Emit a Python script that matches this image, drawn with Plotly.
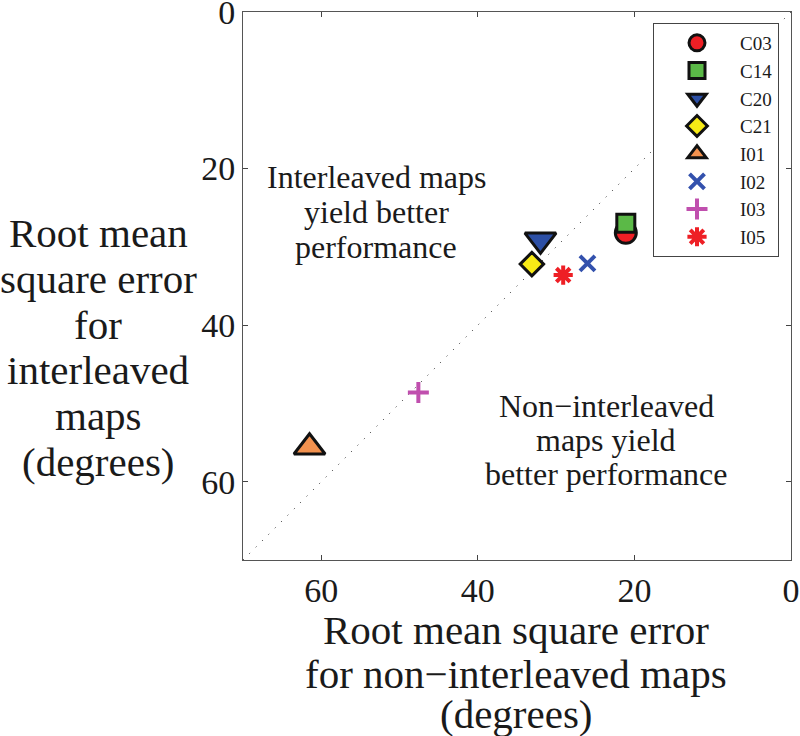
import plotly.graph_objects as go

# ---- data ----
names = ["C03", "C14", "C20", "C21", "I01", "I02", "I03", "I05"]
rmse_non_interleaved = [21.1, 21.1, 32.0, 33.1, 61.5, 26.0, 47.6, 29.1]
rmse_interleaved = [28.2, 27.0, 29.1, 32.2, 55.6, 32.1, 48.6, 33.6]
symbols = ["circle", "square", "triangle-down", "diamond", "triangle-up",
           "x-thin", "cross-thin", "asterisk"]
fill_colors = ["#ee1f25", "#5bb947", "#2c4fa5", "#f7ea16", "#f3924f",
               "#3351ad", "#c04fae", "#ee1f25"]
marker_sizes = [21, 18, 27, 18, 27, 15, 15, 16]
outlined = [True, True, True, True, True, False, False, False]
diag = [70, 0]
ticks = [0, 20, 40, 60]
tick_text = ["0", "20", "40", "60"]

ylabel_lines = ["Root mean", "square error", "for", "interleaved", "maps", "(degrees)"]
xlabel_lines = ["Root mean square error", "for non\u2212interleaved maps", "(degrees)"]
note1_lines = ["Interleaved maps", "yield better", "performance"]
note2_lines = ["Non\u2212interleaved", "maps yield", "better performance"]

FONT = "Liberation Serif, Times New Roman, serif"

# plot area in pixels
L, R, T, B = 243, 791, 12, 560
W, H = 800, 736
PW, PH = R - L, B - T

def px_x(p):
    return (p - L) / PW

def px_y(p):
    return (B - p) / PH

fig = go.Figure()

fig.add_trace(go.Scatter(
    x=diag, y=diag, mode="lines",
    line=dict(color="#222222", width=1, dash="1px,8px"),
    showlegend=False, hoverinfo="skip"))

for n, xv, yv, s, c, sz, o in zip(names, rmse_non_interleaved, rmse_interleaved,
                                   symbols, fill_colors, marker_sizes, outlined):
    if o:
        mk = dict(symbol=s, size=sz, color=c, line=dict(color="#111111", width=3))
    else:
        mk = dict(symbol=s, size=sz, color=c, line=dict(color=c, width=4))
    fig.add_trace(go.Scatter(x=[xv], y=[yv], mode="markers", name=n, marker=mk))

annotations = []

def add_lines(lines, xc, ycs, size):
    for t, yc in zip(lines, ycs):
        annotations.append(dict(
            text=t, x=xc, y=yc, xref="paper", yref="paper", showarrow=False,
            xanchor="center", yanchor="middle",
            font=dict(family=FONT, size=size, color="#1a1a1a")))

# y-axis title
add_lines(ylabel_lines, px_x(98), [px_y(v) for v in [233, 279, 325, 370, 416, 462]], 41)
# x-axis title
add_lines(xlabel_lines, px_x(516), [px_y(v) for v in [630, 674, 714]], 41)
# in-plot notes
add_lines(note1_lines, px_x(376), [px_y(v) for v in [177, 212, 247]], 32)
add_lines(note2_lines, px_x(606), [px_y(v) for v in [406, 440, 474]], 32)

axis_common = dict(
    range=[70, 0], tickvals=ticks, ticktext=tick_text,
    ticks="inside", ticklen=5, tickwidth=1, tickcolor="#444444",
    showline=True, linecolor="#555555", linewidth=1, mirror="ticks",
    showgrid=False, zeroline=False, ticklabeloverflow="allow",
    automargin=False,
    tickfont=dict(family=FONT, size=34, color="#1a1a1a"),
)

fig.update_layout(
    width=W, height=H,
    margin=dict(l=L, r=W - R, t=T, b=H - B, autoexpand=False),
    paper_bgcolor="white", plot_bgcolor="white",
    xaxis=dict(**axis_common, ticklabelstandoff=0),
    yaxis=dict(**axis_common, ticklabelstandoff=0),
    annotations=annotations,
    legend=dict(
        x=px_x(779), y=px_y(23), xanchor="right", yanchor="top",
        bgcolor="white", bordercolor="#444444", borderwidth=1,
        font=dict(family=FONT, size=19, color="#1a1a1a"),
        itemwidth=76,
    ),
    showlegend=True,
)

fig.write_html(
    "out.html",
    config={"displayModeBar": False},
    post_script="document.body.style.margin='0';document.body.style.overflow='hidden';",
)
